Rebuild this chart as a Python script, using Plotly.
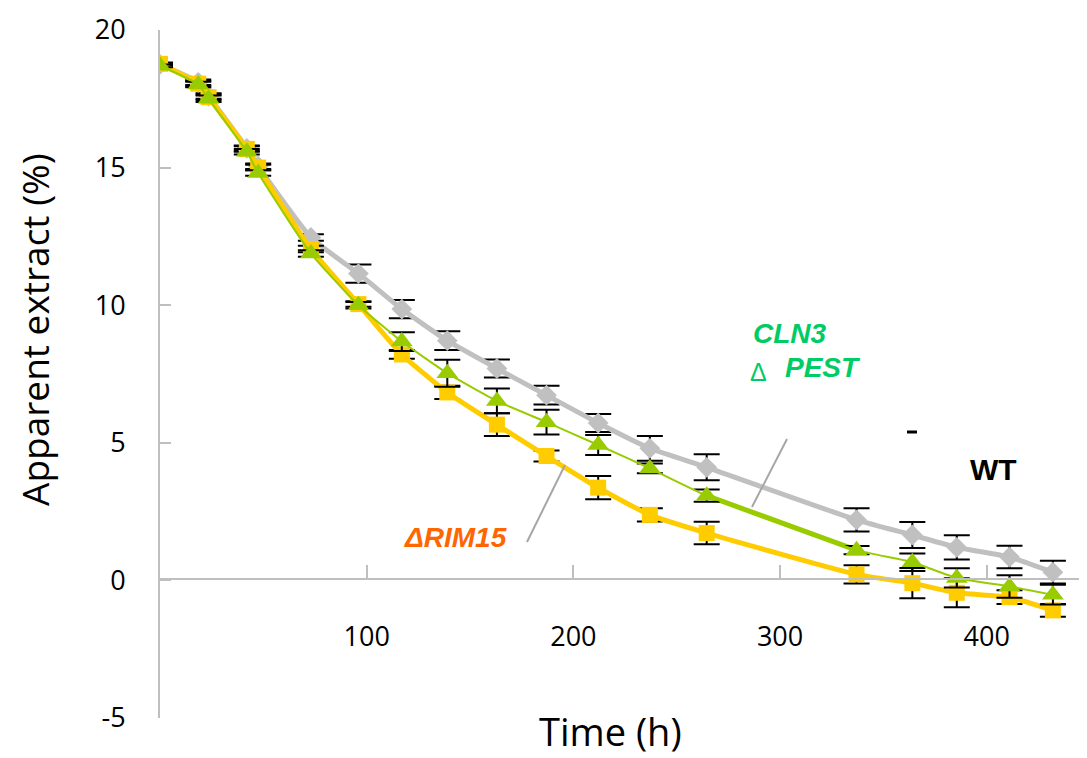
import plotly.graph_objects as go

# ---- data ----
time_h = [0, 18.5, 23.5, 42, 47.5, 73, 96, 117, 139, 163, 187, 212, 237, 264.5, 337, 364, 385.5, 411, 432]

wt = [18.75, 18.1, 17.6, 15.7, 15.05, 12.46, 11.15, 9.86, 8.71, 7.7, 6.73, 5.72, 4.8, 4.11, 2.2, 1.65, 1.2, 0.85, 0.3]
wt_err = [0.05, 0.1, 0.1, 0.1, 0.1, 0.12, 0.33, 0.33, 0.34, 0.33, 0.34, 0.33, 0.45, 0.47, 0.42, 0.47, 0.44, 0.41, 0.41]

cln3 = [18.7, 18.02, 17.5, 15.58, 14.8, 11.88, 10.0, 8.68, 7.53, 6.52, 5.75, 4.92, 4.07, 3.08, 1.1, 0.66, 0.09, -0.22, -0.52]
cln3_err = [0.05, 0.1, 0.12, 0.1, 0.1, 0.12, 0.12, 0.34, 0.49, 0.45, 0.45, 0.36, 0.18, 0.22, 0.15, 0.32, 0.35, 0.41, 0.36]

rim15 = [18.77, 18.05, 17.56, 15.68, 15.0, 12.04, 10.04, 8.21, 6.83, 5.66, 4.52, 3.37, 2.38, 1.72, 0.22, -0.1, -0.45, -0.61, -1.09]
rim15_err = [0.05, 0.1, 0.1, 0.1, 0.1, 0.12, 0.1, 0.16, 0.24, 0.41, 0.2, 0.42, 0.24, 0.41, 0.33, 0.55, 0.53, 0.25, 0.23]

x_ticks = [100, 200, 300, 400]
y_ticks = [-5, 0, 5, 10, 15, 20]

# ---- layout geometry (page has an 8px body margin) ----
OFF = 8
W, H = 1087 - OFF, 758 - OFF
L, R, T, B = 160 - OFF, 0, 30 - OFF, 40
PW, PH = W - L - R, H - T - B


def px(x):
    """screen pixel x -> paper fraction"""
    return (x - OFF - L) / PW


def py(y):
    """screen pixel y -> paper fraction"""
    return (H - B - (y - OFF)) / PH


GRAY = "#C0C0C0"
YELLOW = "#FFCC00"
GREEN = "#99CC00"
AXIS = "#BFBFBF"


def err(a):
    return dict(type="data", array=a, color="black", thickness=2, width=13, visible=True)


fig = go.Figure()

fig.add_trace(go.Scatter(
    x=time_h, y=wt, mode="lines+markers", name="WT",
    line=dict(color=GRAY, width=5, shape="spline", smoothing=0.5),
    marker=dict(symbol="diamond", size=16, color=GRAY),
    error_y=err(wt_err),
))
fig.add_trace(go.Scatter(
    x=time_h, y=rim15, mode="lines+markers", name="ΔRIM15",
    line=dict(color=YELLOW, width=5, shape="spline", smoothing=0.5),
    marker=dict(symbol="square", size=16, color=YELLOW),
    error_y=err(rim15_err),
))
# thicker green segment (between the 264.5 h and 337 h samples)
fig.add_trace(go.Scatter(
    x=time_h[13:15], y=cln3[13:15], mode="lines",
    line=dict(color=GREEN, width=5), hoverinfo="skip",
))
fig.add_trace(go.Scatter(
    x=time_h, y=cln3, mode="lines+markers", name="CLN3 ΔPEST",
    line=dict(color=GREEN, width=2, shape="spline", smoothing=0.5),
    marker=dict(symbol="triangle-up", size=19, color=GREEN),
    error_y=err(cln3_err),
))

tickfont = dict(family="Open Sans", size=27, color="black")

fig.update_layout(
    width=W, height=H,
    margin=dict(l=L, r=R, t=T, b=B, pad=0),
    paper_bgcolor="white", plot_bgcolor="white",
    showlegend=False,
    xaxis=dict(
        range=[0, 448.5], anchor="free", position=py(579.3),
        showline=True, linecolor=AXIS, linewidth=2,
        ticks="inside", ticklen=13, tickwidth=2, tickcolor=AXIS,
        tickvals=x_ticks, ticktext=[str(v) for v in x_ticks],
        tickfont=tickfont, ticklabelstandoff=33,
        showgrid=False, zeroline=False,
    ),
    yaxis=dict(
        range=[-5, 20], tickvals=y_ticks, ticktext=[str(v) for v in y_ticks],
        showline=True, linecolor=AXIS, linewidth=2,
        ticks="inside", ticklen=11, tickwidth=2, tickcolor=AXIS,
        tickfont=tickfont, ticklabelstandoff=27,
        showgrid=False, zeroline=False,
    ),
)

ann = []
ann.append(dict(text="Apparent extract (%)", x=px(34), y=py(330), xref="paper", yref="paper",
                textangle=-90, showarrow=False, xanchor="center", yanchor="middle",
                font=dict(family="Open Sans", size=37, color="black")))
ann.append(dict(text="Time (h)", x=px(610), y=py(731), xref="paper", yref="paper",
                showarrow=False, xanchor="center", yanchor="middle",
                font=dict(family="Open Sans", size=38, color="black")))
lab = dict(family="Liberation Sans", size=28)
ann.append(dict(text="<b><i>ΔRIM15</i></b>", x=px(455), y=py(537), xref="paper", yref="paper",
                showarrow=False, xanchor="center", yanchor="middle",
                font=dict(lab, color="#FF6600")))
ann.append(dict(text="<b><i>CLN3</i></b>", x=px(789.5), y=py(333), xref="paper", yref="paper",
                showarrow=False, xanchor="center", yanchor="middle",
                font=dict(lab, color="#00CC66")))
ann.append(dict(text="<b><i>PEST</i></b>", x=px(822.5), y=py(367.5), xref="paper", yref="paper",
                showarrow=False, xanchor="center", yanchor="middle",
                font=dict(lab, color="#00CC66")))
ann.append(dict(text="Δ", x=px(758.5), y=py(372), xref="paper", yref="paper",
                showarrow=False, xanchor="center", yanchor="middle",
                font=dict(family="Liberation Sans", size=25, color="#00CC66")))
ann.append(dict(text="<b>WT</b>", x=px(993.5), y=py(469), xref="paper", yref="paper",
                showarrow=False, xanchor="center", yanchor="middle",
                font=dict(family="Liberation Sans", size=30, color="black")))
fig.update_layout(annotations=ann)

shapes = [
    dict(type="line", xref="paper", yref="paper", x0=px(527), y0=py(542), x1=px(565), y1=py(465),
         line=dict(color="#A6A6A6", width=2)),
    dict(type="line", xref="paper", yref="paper", x0=px(752), y0=py(507), x1=px(787), y1=py(439),
         line=dict(color="#A6A6A6", width=2)),
    dict(type="line", xref="paper", yref="paper", x0=px(907), y0=py(432), x1=px(917), y1=py(432),
         line=dict(color="black", width=3)),
]
fig.update_layout(shapes=shapes)

fig.write_html("out.html")
